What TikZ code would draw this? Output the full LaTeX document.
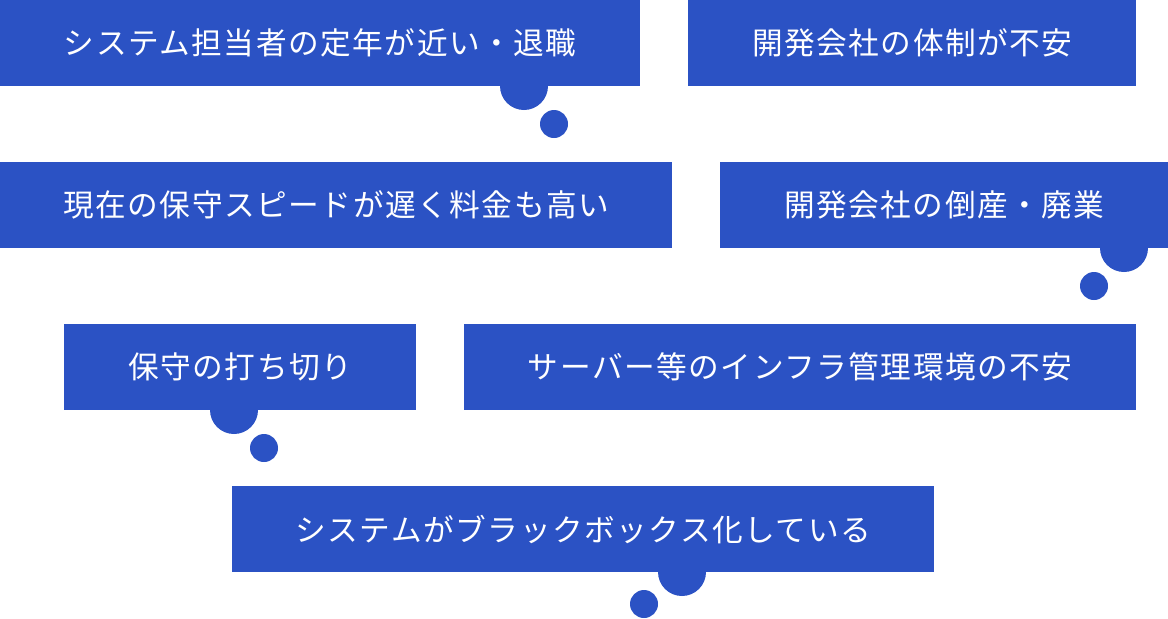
\documentclass[tikz,border=0pt]{standalone}
\usepackage{fontspec}
\newfontfamily\jpfont[LetterSpace=5]{Noto Sans CJK JP}
\definecolor{boxblue}{RGB}{43,82,196}
\begin{document}
\begin{tikzpicture}[x=0.75pt,y=-0.75pt,
  box/.style={fill=boxblue, draw=none, anchor=north west, inner sep=0pt,
    minimum height=64.5pt, text=white, font=\jpfont\fontsize{23}{27}\selectfont},
  bigdot/.style={circle, fill=boxblue, draw=none, inner sep=0pt, minimum size=36pt},
  smalldot/.style={circle, fill=boxblue, draw=none, inner sep=0pt, minimum size=21pt}]
\useasboundingbox (0,0) rectangle (1168,618);
% bubbles
\node[bigdot] (c1) at (524,86) {};
\node[smalldot] (s1) at (554,124) {};
\node[bigdot] (c4) at (1124,248) {};
\node[smalldot] (s4) at (1094,286) {};
\node[bigdot] (c5) at (234,410) {};
\node[smalldot] (s5) at (264,448) {};
\node[bigdot] (c7) at (682,572) {};
\node[smalldot] (s7) at (644,604) {};
% boxes
\node[box, minimum width=480pt] (b1) at (0,0) {システム担当者の定年が近い・退職};
\node[box, minimum width=336pt] (b2) at (688,0) {開発会社の体制が不安};
\node[box, minimum width=504pt] (b3) at (0,162) {現在の保守スピードが遅く料金も高い};
\node[box, minimum width=336pt] (b4) at (720,162) {開発会社の倒産・廃業};
\node[box, minimum width=264pt] (b5) at (64,324) {保守の打ち切り};
\node[box, minimum width=504pt] (b6) at (464,324) {サーバー等のインフラ管理環境の不安};
\node[box, minimum width=526.5pt] (b7) at (232,486) {システムがブラックボックス化している};
\end{tikzpicture}
\end{document}
